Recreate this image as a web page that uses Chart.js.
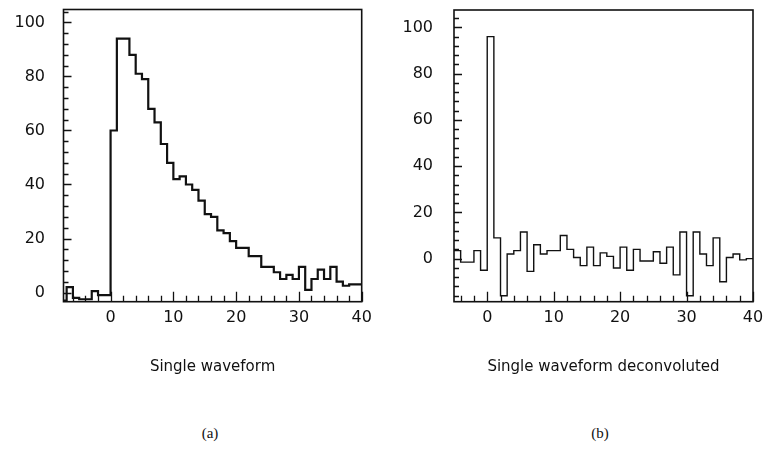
<!DOCTYPE html>
<html><head><meta charset="utf-8">
<script src="https://cdn.jsdelivr.net/npm/chart.js@4.4.1/dist/chart.umd.min.js"></script>
<style>
html,body{margin:0;padding:0;background:#fff;width:767px;height:455px;overflow:hidden;}
.wrap{position:absolute;top:0;height:400px;}
#wa{left:0;width:385px;}
#wb{left:385px;width:382px;}
.cap{position:absolute;top:425px;font-family:"Liberation Serif","DejaVu Serif",serif;font-size:15px;color:#111;transform:translateX(-50%);}
</style></head><body>
<div id="wa" class="wrap"><canvas id="ca"></canvas></div>
<div id="wb" class="wrap"><canvas id="cb"></canvas></div>
<div class="cap" style="left:210px">(a)</div>
<div class="cap" style="left:600px">(b)</div>
<script>
// ---- data ----
const binStartA = -8;           // left edge of first bin (a)
const valuesA = [-3, 2, -2, -2.5, -2.5, 0.5, -1, -1,
  60, 94, 94, 88, 81, 79, 68, 63, 55, 48,
  42, 43, 40, 38, 34, 29, 28, 23, 22, 19,
  16.5, 16.5, 13.5, 13.5, 9.5, 9.5, 7.5, 5, 6.5, 5,
  9.5, 1, 5, 8.5, 5, 9.5, 4, 2.5, 3, 3];
const binStartB = -5;           // left edge of first bin (b)
const valuesB = [3.5, -1.5, -1.5, 3.5, -5,
  96, 9, -16, 2, 3.5, 11.5, -5.5, 6, 2, 3.5,
  3.5, 10, 4, 0.5, -3, 5, -3, 2.5, 1, -4,
  5, -5, 4, -1, -1, 3, -2, 5, -7, 11.5,
  -16, 11.5, 2, -3, 9, -10, 0.5, 2, -0.5, 0];
const xTicks = [0, 10, 20, 30, 40];
const yTicks = [0, 20, 40, 60, 80, 100];
const titleA = 'Single waveform';
const titleB = 'Single waveform deconvoluted';

function histPoints(start, vals) {
  const pts = vals.map((v, i) => ({x: start + i, y: v}));
  pts.push({x: start + vals.length, y: vals[vals.length - 1]});
  return pts;
}

const frameTicks = {
  id: 'frameTicks',
  afterDatasetsDraw(chart, args, o) {
    const {ctx, chartArea: a, scales: {x, y}} = chart;
    ctx.save();
    ctx.strokeStyle = '#111';
    ctx.lineWidth = 1.3;
    ctx.beginPath();
    for (let v = Math.ceil(x.min / o.xMinor) * o.xMinor; v <= x.max + 1e-9; v += o.xMinor) {
      const px = Math.round(x.getPixelForValue(v)) + 0.5;
      const len = Math.abs(v % o.xMajor) < 1e-6 ? o.xMajorLen : o.xMinorLen;
      ctx.moveTo(px, a.bottom); ctx.lineTo(px, a.bottom - len);
    }
    for (let v = Math.ceil(y.min / o.yMinor) * o.yMinor; v <= y.max + 1e-9; v += o.yMinor) {
      const py = Math.round(y.getPixelForValue(v)) + 0.5;
      const len = Math.abs(v % o.yMajor) < 1e-6 ? o.yMajorLen : o.yMinorLen;
      ctx.moveTo(a.left, py); ctx.lineTo(a.left + len, py);
    }
    ctx.stroke();
    ctx.lineWidth = o.frameWidth;
    ctx.strokeRect(a.left, a.top, a.right - a.left, a.bottom - a.top);
    ctx.restore();
  }
};

function makeChart(id, pts, cfg) {
  return new Chart(document.getElementById(id), {
    type: 'line',
    data: {datasets: [{data: pts, stepped: 'before', borderColor: '#111',
      borderWidth: cfg.lw, pointRadius: 0, fill: false, tension: 0}]},
    options: {
      responsive: true, maintainAspectRatio: false, animation: false,
      events: [],
      layout: {padding: {left: 0, top: cfg.top, right: cfg.right, bottom: 0}},
      plugins: {legend: {display: false}, tooltip: {enabled: false},
        frameTicks: {xMinor: 2, xMajor: 10, xMinorLen: 6, xMajorLen: 10,
          yMinor: 4, yMajor: 20, yMinorLen: 5, yMajorLen: 8, frameWidth: 1.6}},
      scales: {
        x: {type: 'linear', min: cfg.xmin, max: 40,
          afterBuildTicks: s => { s.ticks = xTicks.map(v => ({value: v})); },
          afterFit: s => { s.height = 400 - cfg.bottom; s.paddingLeft = 0; s.paddingRight = 0; },
          grid: {display: false, drawTicks: false},
          border: {display: false},
          ticks: {padding: 7, color: '#111', maxRotation: 0, autoSkip: false,
            font: {family: 'DejaVu Sans', size: 16}},
          title: {display: true, text: cfg.title, color: '#111',
            font: {family: 'DejaVu Sans', size: 15, lineHeight: 1.2},
            padding: {top: 0, bottom: 24}}
        },
        y: {type: 'linear', min: cfg.ymin, max: cfg.ymax,
          afterBuildTicks: s => { s.ticks = yTicks.map(v => ({value: v})); },
          afterFit: s => { s.width = cfg.left; s.paddingTop = 0; s.paddingBottom = 0; },
          grid: {display: false, drawTicks: false},
          border: {display: false},
          ticks: {padding: cfg.ypad, color: '#111', autoSkip: false,
            font: {family: 'DejaVu Sans', size: 16}}
        }
      }
    },
    plugins: [frameTicks]
  });
}

makeChart('ca', histPoints(binStartA, valuesA),
  {xmin: -7.5, ymin: -3.4, ymax: 104.8, left: 63.5, right: 23.3, top: 9.5,
   bottom: 301.7, ypad: 18.5, lw: 2.2, title: titleA});
makeChart('cb', histPoints(binStartB, valuesB),
  {xmin: -5, ymin: -18.6, ymax: 107.5, left: 69, right: 14, top: 10,
   bottom: 301.7, ypad: 21, lw: 1.4, title: titleB});
</script>
</body></html>
